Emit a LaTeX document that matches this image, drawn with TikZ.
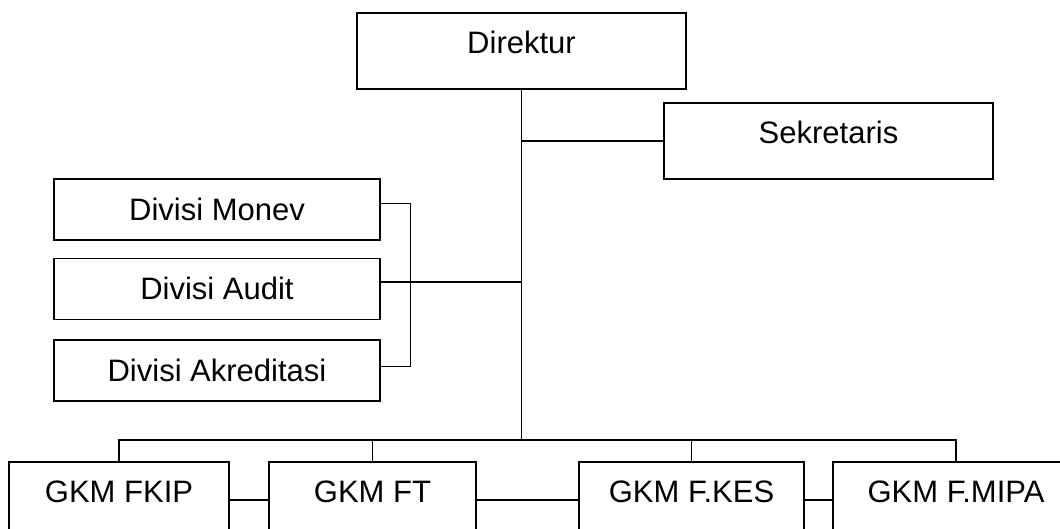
\documentclass[tikz,border=0pt]{standalone}
\usepackage{fontspec}
\setmainfont{Liberation Sans}
\usetikzlibrary{positioning}

\begin{document}
\begin{tikzpicture}[
            x = 1pt, y = -1pt, % one unit per pixel, y running down
            line width = 1.4pt, % line style
            font = \fontsize{31}{37}\selectfont
        ]

        \tikzstyle{unit}=[
            draw = black,
            inner sep = 0pt,
            minimum width = 329pt,
            minimum height = 76pt,
            text height = 12pt,
            text depth = 7pt
        ]
        \tikzstyle{divisi}=[
            draw = black,
            inner sep = 0pt,
            minimum width = 326pt,
            minimum height = 61pt
        ]

        \useasboundingbox (0,0) rectangle (1060,528);

        \node[unit] (dir) at (521.5,51) {Direktur};
        \node[unit] (sek) at (828.5,141) {Sekretaris};

        \node[divisi] (monev) at (217,209.5) {Divisi Monev};
        \node[divisi] (audit) [below=17pt of monev] {Divisi Audit};
        \node[divisi] (akred) [below=19pt of audit] {Divisi Akreditasi};

        \node[unit, minimum width=220pt] (fkip) at (119,500) {GKM FKIP};
        \node[unit, minimum width=207pt] (ft) at (372.5,500) {GKM FT};
        \node[unit, minimum width=225pt] (fkes) at (691.5,500) {GKM F.KES};
        \node[unit, minimum width=246pt] (fmipa) at (956,500) {GKM F.MIPA};

        \coordinate (bus) at (521.5,440);

        \draw (dir.south) -- (bus);
        \draw (dir.south |- sek.west) -- (sek.west);

        \draw ([yshift=7pt]audit.east) -- ([yshift=7pt]audit.east -| dir.south);
        \draw ([yshift=6pt]monev.east) -- ++(30,0) |- ([yshift=4pt]akred.east);

        \draw (fkip.north) |- (bus) -| (fmipa.north);
        \draw (ft.north) -- (ft.north |- bus);
        \draw (fkes.north) -- (fkes.north |- bus);

        \draw (fkip.east) -- (ft.west);
        \draw (ft.east) -- (fkes.west);
        \draw (fkes.east) -- (fmipa.west);

  \end{tikzpicture}
\end{document}
